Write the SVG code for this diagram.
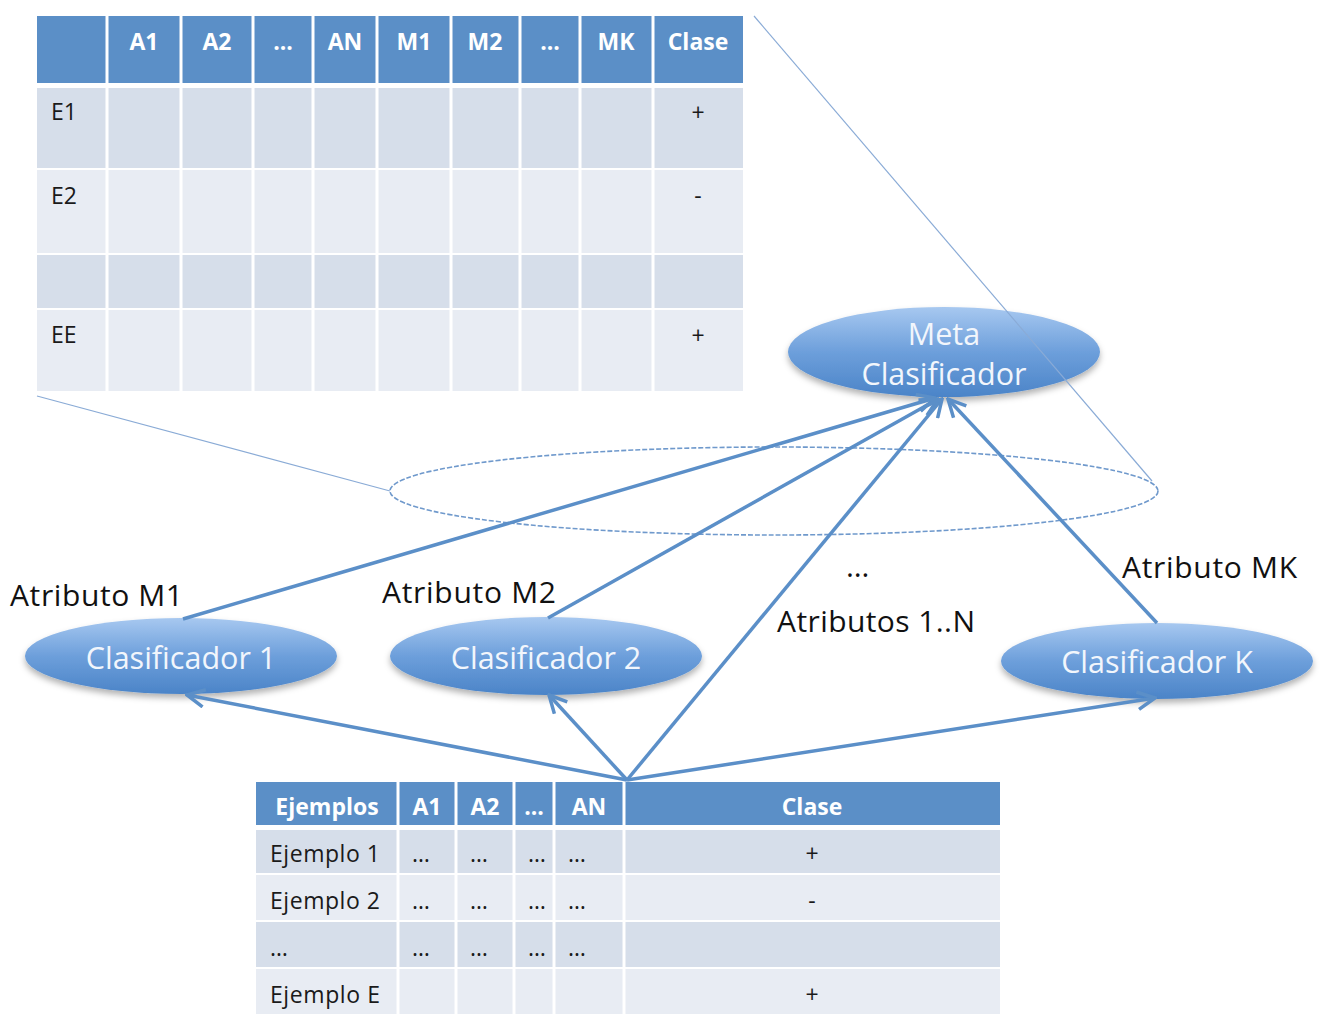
<svg xmlns="http://www.w3.org/2000/svg" width="1323" height="1028" viewBox="0 0 1323 1028">
<style>
.hd{fill:#5b8fc7}
.r1{fill:#d6deea}
.r2{fill:#e8ecf3}
.ht{font-family:"Open Sans","Liberation Sans",sans-serif;font-weight:bold;font-size:23px;fill:#fff;text-anchor:middle}
.ct{font-family:"Open Sans","Liberation Sans",sans-serif;font-size:23px;fill:#1a1a1a}
.cc{font-family:"Open Sans","Liberation Sans",sans-serif;font-size:23px;fill:#1a1a1a;text-anchor:middle}
.et{font-family:"Open Sans","Liberation Sans",sans-serif;font-size:30.5px;fill:#f2f6fc;text-anchor:middle}
.lb{font-family:"Open Sans","Liberation Sans",sans-serif;font-size:30px;fill:#111}
.ar{fill:none;stroke:#5b8fc8;stroke-width:3.5;marker-end:url(#ah)}
.zl{fill:none;stroke:#8aabd6;stroke-width:1.2}
.el{fill:url(#eg);filter:url(#sh)}
.sep{stroke:#fff;stroke-width:3}
</style>
<defs>
<linearGradient id="eg" x1="0" y1="0" x2="0" y2="1">
<stop offset="0" stop-color="#a7c8f0"/>
<stop offset="0.5" stop-color="#6d9fdb"/>
<stop offset="1" stop-color="#4b84c8"/>
</linearGradient>
<filter id="sh" x="-10%" y="-20%" width="120%" height="150%">
<feDropShadow dx="0" dy="4" stdDeviation="3" flood-color="#000" flood-opacity="0.3"/>
</filter>
<marker id="ah" viewBox="0 0 12 12" refX="11" refY="6" markerWidth="6" markerHeight="6" markerUnits="strokeWidth" orient="auto">
<path d="M1,1 L11,6 L1,11" fill="none" stroke="#5b8fc8" stroke-width="2"/>
</marker>
</defs>

<g id="top-table">
<rect class="hd" x="37" y="16" width="706" height="67"/>
<rect class="r1" x="37" y="88" width="706" height="80"/>
<rect class="r2" x="37" y="170" width="706" height="83"/>
<rect class="r1" x="37" y="255" width="706" height="53"/>
<rect class="r2" x="37" y="310" width="706" height="81"/>
<g class="sep">
<line x1="37" y1="85.5" x2="743" y2="85.5" stroke-width="5"/>
<line x1="107" y1="16" x2="107" y2="391"/>
<line x1="181" y1="16" x2="181" y2="391"/>
<line x1="253" y1="16" x2="253" y2="391"/>
<line x1="313" y1="16" x2="313" y2="391"/>
<line x1="377" y1="16" x2="377" y2="391"/>
<line x1="451" y1="16" x2="451" y2="391"/>
<line x1="520" y1="16" x2="520" y2="391"/>
<line x1="580" y1="16" x2="580" y2="391"/>
<line x1="653" y1="16" x2="653" y2="391"/>
</g>
<text class="ht" x="144" y="50">A1</text>
<text class="ht" x="217" y="50">A2</text>
<text class="ht" x="283" y="50">...</text>
<text class="ht" x="345" y="50">AN</text>
<text class="ht" x="414" y="50">M1</text>
<text class="ht" x="485" y="50">M2</text>
<text class="ht" x="550" y="50">...</text>
<text class="ht" x="616" y="50">MK</text>
<text class="ht" x="698" y="50">Clase</text>
<text class="ct" x="51" y="120">E1</text>
<text class="ct" x="51" y="204">E2</text>
<text class="ct" x="51" y="343">EE</text>
<text class="cc" x="698" y="121">+</text>
<text class="cc" x="698" y="204">-</text>
<text class="cc" x="698" y="344">+</text>
</g>

<g id="bottom-table">
<rect class="hd" x="256" y="782" width="744" height="43"/>
<rect class="r1" x="256" y="830" width="744" height="43"/>
<rect class="r2" x="256" y="875" width="744" height="45"/>
<rect class="r1" x="256" y="922" width="744" height="45"/>
<rect class="r2" x="256" y="969" width="744" height="45"/>
<g class="sep">
<line x1="256" y1="827.5" x2="1000" y2="827.5" stroke-width="5"/>
<line x1="398" y1="782" x2="398" y2="1014"/>
<line x1="456" y1="782" x2="456" y2="1014"/>
<line x1="514" y1="782" x2="514" y2="1014"/>
<line x1="554" y1="782" x2="554" y2="1014"/>
<line x1="624" y1="782" x2="624" y2="1014"/>
</g>
<text class="ht" x="327" y="815">Ejemplos</text>
<text class="ht" x="427" y="815">A1</text>
<text class="ht" x="485" y="815">A2</text>
<text class="ht" x="534" y="815">...</text>
<text class="ht" x="589" y="815">AN</text>
<text class="ht" x="812" y="815">Clase</text>
<text class="ct" x="270" y="862" textLength="110">Ejemplo 1</text>
<text class="ct" x="270" y="909" textLength="110">Ejemplo 2</text>
<text class="ct" x="270" y="956">…</text>
<text class="ct" x="270" y="1003" textLength="110">Ejemplo E</text>
<g class="ct">
<text x="412" y="862">…</text><text x="470" y="862">…</text><text x="528" y="862">…</text><text x="568" y="862">…</text>
<text x="412" y="909">…</text><text x="470" y="909">…</text><text x="528" y="909">…</text><text x="568" y="909">…</text>
<text x="412" y="956">…</text><text x="470" y="956">…</text><text x="528" y="956">…</text><text x="568" y="956">…</text>
</g>
<text class="cc" x="812" y="862">+</text>
<text class="cc" x="812" y="909">-</text>
<text class="cc" x="812" y="1003">+</text>
</g>

<g id="dashed-ellipse">
<ellipse cx="774" cy="491" rx="384" ry="44" fill="none" stroke="#6f99cc" stroke-width="1.6" stroke-dasharray="5,2"/>
</g>

<g id="meta">
<ellipse class="el" cx="944" cy="352" rx="156" ry="45"/>
<text class="et" x="944" y="345">Meta</text>
<text class="et" x="944" y="385">Clasificador</text>
</g>
<g id="clasificador1">
<ellipse class="el" cx="181" cy="656" rx="156" ry="38"/>
<text class="et" x="181" y="669">Clasificador 1</text>
</g>
<g id="clasificador2">
<ellipse class="el" cx="546" cy="656" rx="156" ry="39"/>
<text class="et" x="546" y="669">Clasificador 2</text>
</g>
<g id="clasificadorK">
<ellipse class="el" cx="1157" cy="661" rx="156" ry="38"/>
<text class="et" x="1157" y="673">Clasificador K</text>
</g>

<g id="connectors">
<line class="ar" x1="183" y1="619" x2="935" y2="398"/>
<line class="ar" x1="548" y1="618" x2="938" y2="399"/>
<line class="ar" x1="627" y1="780" x2="942" y2="399"/>
<line class="ar" x1="1157" y1="623" x2="948" y2="399"/>
<line class="ar" x1="627" y1="780" x2="187" y2="695"/>
<line class="ar" x1="627" y1="780" x2="549" y2="695"/>
<line class="ar" x1="627" y1="780" x2="1155" y2="698"/>
<line class="zl" x1="37" y1="396" x2="390" y2="491"/>
<line class="zl" x1="754" y1="16" x2="1152" y2="481"/>
</g>

<g id="labels">
<text class="lb" x="10" y="606" textLength="173">Atributo M1</text>
<text class="lb" x="382" y="603" textLength="174">Atributo M2</text>
<text class="lb" x="846" y="577">…</text>
<text class="lb" x="777" y="632" textLength="198">Atributos 1..N</text>
<text class="lb" x="1122" y="578" textLength="175">Atributo MK</text>
</g>
</svg>
